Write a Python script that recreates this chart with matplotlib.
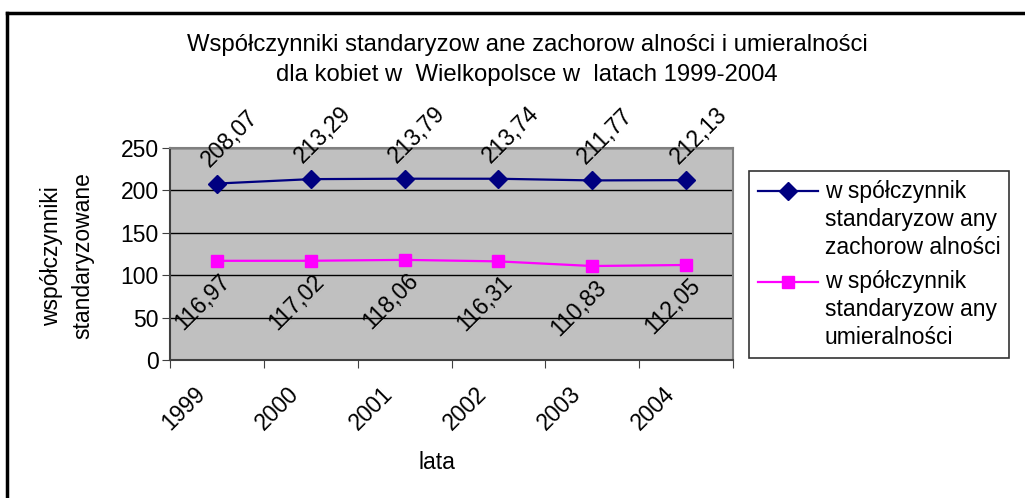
import matplotlib
matplotlib.use('Agg')
import matplotlib.pyplot as plt
from matplotlib.lines import Line2D
from matplotlib.legend_handler import HandlerLine2D

plt.rcParams['font.family'] = ['Liberation Sans', 'DejaVu Sans']

# data
lata = ['1999', '2000', '2001', '2002', '2003', '2004']
zachorowalnosc = [208.07, 213.29, 213.79, 213.74, 211.77, 212.13]
umieralnosc = [116.97, 117.02, 118.06, 116.31, 110.83, 112.05]
y_ticks = [0, 50, 100, 150, 200, 250]

tytul = ('Współczynniki standaryzow ane zachorow alności i umieralności\n'
         'dla kobiet w  Wielkopolsce w  latach 1999-2004')
etykieta_1 = 'w spółczynnik\nstandaryzow any\nzachorow alności'
etykieta_2 = 'w spółczynnik\nstandaryzow any\numieralności'

FS = 16.5
LEG_FS = 16.5
LEG_LS = 1.27


class HandlerFirstLine(HandlerLine2D):
    # Excel puts the legend key next to the first line of a wrapped label
    def create_artists(self, legend, orig_handle, xdescent, ydescent,
                       width, height, fontsize, trans):
        artists = super().create_artists(legend, orig_handle, xdescent, ydescent,
                                         width, height, fontsize, trans)
        for a in artists:
            a.set_ydata([y + LEG_LS * fontsize for y in a.get_ydata()])
        return artists


W, H = 1025, 498
fig = plt.figure(figsize=(W / 100, H / 100), dpi=100)
fig.patch.set_facecolor('white')

# plot area in pixels: x 170..733, y 148..360
ax = fig.add_axes([170 / W, 1 - 360 / H, (733 - 170) / W, (360 - 148) / H])
ax.set_facecolor('#C0C0C0')

x = list(range(len(lata)))
l1, = ax.plot(x, zachorowalnosc, color='#000080', lw=1.6, marker='D', ms=9,
              label=etykieta_1, zorder=3)
l2, = ax.plot(x, umieralnosc, color='#FF00FF', lw=1.6, marker='s', ms=9,
              label=etykieta_2, zorder=3)

# data labels
for i, v in enumerate(zachorowalnosc):
    ax.annotate(f'{v:.2f}'.replace('.', ','), (i, v), xytext=(9, 32),
                textcoords='offset points', rotation=45, ha='center',
                va='center', fontsize=FS)
for i, v in enumerate(umieralnosc):
    ax.annotate(f'{v:.2f}'.replace('.', ','), (i, v), xytext=(-10, -30),
                textcoords='offset points', rotation=45, ha='center',
                va='center', fontsize=FS)

ax.set_ylim(0, 250)
ax.set_xlim(-0.5, len(lata) - 0.5)
ax.set_yticks(y_ticks)
ax.set_yticklabels([str(t) for t in y_ticks], fontsize=FS)
ax.yaxis.grid(True, color='black', lw=1)
ax.set_axisbelow(True)

# category ticks between the years, labels in the middle
ax.set_xticks([i - 0.5 for i in range(len(lata) + 1)])
ax.set_xticklabels([])
ax.set_xticks(x, minor=True)
ax.tick_params(axis='x', which='minor', length=0)
ax.tick_params(axis='both', which='major', length=6, color='#404040', direction='out')
ax.tick_params(axis='y', pad=2)
for i, lab in enumerate(lata):
    ax.annotate(lab, (i, 0), xycoords=('data', 'axes fraction'),
                xytext=(-11, -22), textcoords='offset points', rotation=45,
                rotation_mode='anchor', ha='right', va='center', fontsize=FS)

for s in ['top', 'right']:
    ax.spines[s].set_color('#808080')
    ax.spines[s].set_linewidth(1.5)
for s in ['left', 'bottom']:
    ax.spines[s].set_color('#404040')
    ax.spines[s].set_linewidth(1.5)

fig.text(67 / W, 1 - 256 / H, 'współczynniki\nstandaryzowane', rotation=90,
         ha='center', va='center', fontsize=FS, linespacing=1.45)
fig.text(437 / W, 1 - 462 / H, 'lata', ha='center', va='center', fontsize=FS)
fig.text(527 / W, 1 - 60 / H, tytul, ha='center', va='center', fontsize=17.2,
         linespacing=1.42)

leg = fig.legend(handles=[l1, l2], loc='upper left',
                 bbox_to_anchor=(749 / W, 1 - 171 / H),
                 fontsize=LEG_FS, frameon=True, fancybox=False, edgecolor='black',
                 handlelength=2.6, handletextpad=0.3, labelspacing=0.5,
                 borderpad=0.4, borderaxespad=0,
                 handler_map={Line2D: HandlerFirstLine()})
for t in leg.get_texts():
    t.set_linespacing(LEG_LS)
leg.get_frame().set_linewidth(1.2)

# outer frame of the chart (only top and left visible)
fig.add_artist(Line2D([7 / W, 1], [1 - 13 / H, 1 - 13 / H], color='black', lw=2.5))
fig.add_artist(Line2D([7 / W, 7 / W], [0, 1 - 13 / H], color='black', lw=2.5))

fig.savefig('out.png', dpi=100)
